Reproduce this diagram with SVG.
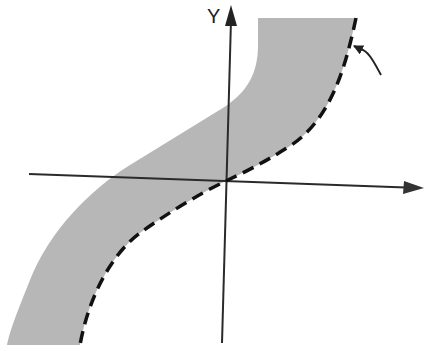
<svg xmlns="http://www.w3.org/2000/svg" width="427" height="351" viewBox="0 0 427 351">
<style>
.band{fill:#b7b7b7;stroke:none}
.axis{stroke:#2a2a2a;stroke-width:2;fill:none}
.dash{stroke:#111;stroke-width:3.5;fill:none;stroke-dasharray:12 7}
.lbl{font-family:"Liberation Sans",Arial,sans-serif;font-size:20px;fill:#222}
</style>
<defs>
<marker id="ah" viewBox="0 0 10 10" refX="9" refY="5" markerWidth="10" markerHeight="10" markerUnits="userSpaceOnUse" orient="auto">
<path d="M0 0 L10 5 L0 10 Z" fill="#222"/>
</marker>
</defs>
<rect width="427" height="351" fill="#fff"/>
<g id="region">
<path class="band" d="M258 18 L258 45 C258 75 246 92 226 106 L130 165 C90 190 50 230 30 280 C18 310 10 330 7 345 L80 345 C88 300 110 255 140 233 C165 215 200 193 228 180 C245 172 265 162 290 146 C330 120 345 70 356 18 Z"/>
</g>
<g id="axes">
<line class="axis" x1="222" y1="343" x2="231" y2="20"/>
<path d="M231 5 L237 26 L225 26 Z" fill="#222"/>
<line class="axis" x1="29" y1="174" x2="406" y2="187.5"/>
<path d="M424 188 L403 194 L404 181 Z" fill="#333"/>
<text class="lbl" x="207" y="23">Y</text>
</g>
<g id="boundary">
<path class="dash" d="M356 18 C345 70 330 120 290 146 C265 162 245 172 228 180 C200 193 165 215 140 233 C110 255 88 300 80 345"/>
</g>
<g id="connectors">
<path d="M381 75 C374 62 368 50 360 49 L354 46" stroke="#222" stroke-width="2" fill="none" marker-end="url(#ah)"/>
</g>
</svg>
